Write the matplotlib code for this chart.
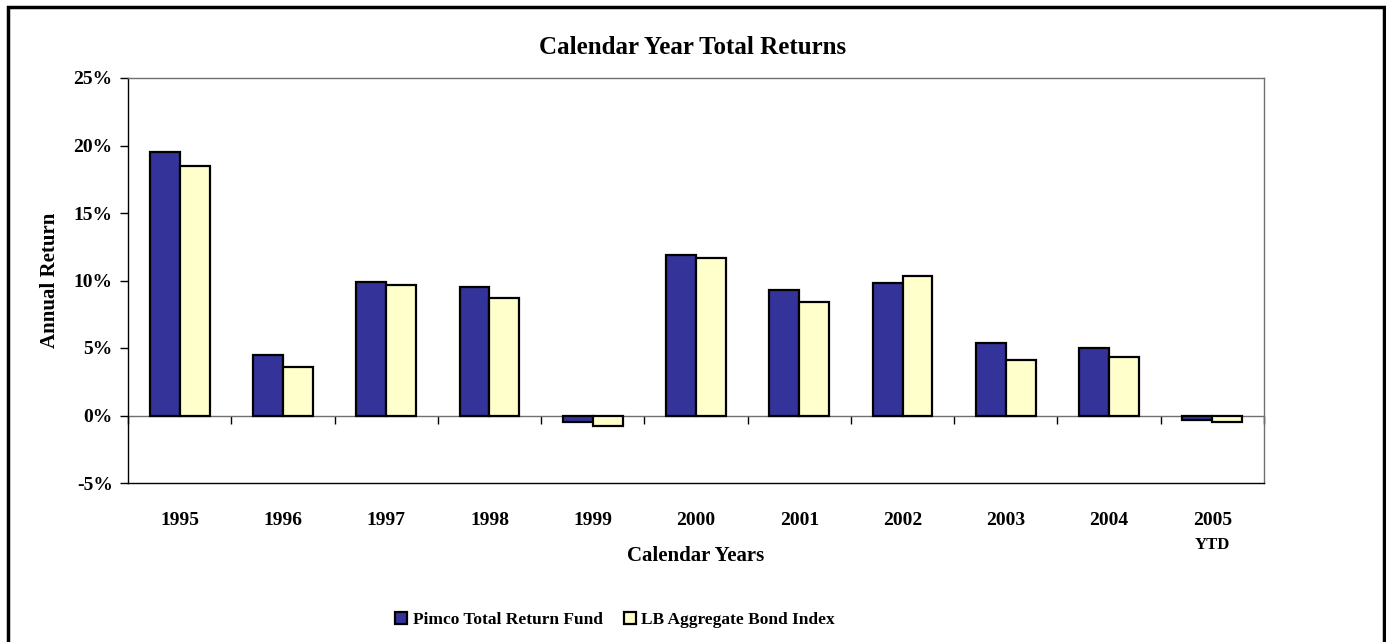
import matplotlib
matplotlib.use('Agg')
import matplotlib.pyplot as plt
import matplotlib.patches as patches
import numpy as np

# datos
years = ['1995', '1996', '1997', '1998', '1999', '2000', '2001', '2002', '2003', '2004', '2005']
pimco = [19.5, 4.5, 9.9, 9.5, -0.45, 11.9, 9.3, 9.8, 5.35, 5.0, -0.3]
lb_index = [18.5, 3.6, 9.7, 8.7, -0.8, 11.65, 8.4, 10.3, 4.1, 4.35, -0.5]
yticks = [-5, 0, 5, 10, 15, 20, 25]

plt.rcParams['font.family'] = ['Liberation Serif', 'DejaVu Serif']

W, H = 1386, 642
fig = plt.figure(figsize=(W / 100, H / 100), dpi=100)
ax = fig.add_axes([128 / W, 1 - 483 / H, (1264 - 128) / W, (483 - 78) / H])

x = np.arange(len(years))
w = 0.29
ax.bar(x - w / 2, pimco, w, color='#333399', edgecolor='black', linewidth=1.6,
       label='Pimco Total Return Fund', zorder=3)
ax.bar(x + w / 2, lb_index, w, color='#FFFFCC', edgecolor='black', linewidth=1.6,
       label='LB Aggregate Bond Index', zorder=3)

ax.set_xlim(-0.5, len(years) - 0.5)
ax.set_ylim(-5, 25)
ax.set_yticks(yticks)
ax.set_yticklabels([f'{v}%' for v in yticks], fontsize=14, fontweight='bold')
ax.tick_params(axis='y', direction='out', length=6, width=1, pad=5)
ax.set_xticks(x)
ax.set_xticklabels(years, fontsize=14, fontweight='bold')
ax.tick_params(axis='x', length=0, pad=21)

for s in ['top', 'right']:
    ax.spines[s].set_color('#707070')
for s in ['left', 'bottom']:
    ax.spines[s].set_color('black')
for s in ax.spines.values():
    s.set_linewidth(1)

# linea del cero con marcas entre categorias
ax.axhline(0, color='#707070', linewidth=1, zorder=2)
sec = ax.secondary_xaxis(5 / 30)
sec.set_xticks(np.arange(len(years) + 1) - 0.5)
sec.set_xticklabels([])
sec.tick_params(direction='out', length=6, width=1)
sec.spines['bottom'].set_visible(False)

ax.text(x[-1], -9.6, 'YTD', ha='center', va='center', fontsize=12, fontweight='bold')
ax.set_xlabel('Calendar Years', fontsize=15, fontweight='bold', labelpad=12)
ax.set_ylabel('Annual Return', fontsize=15, fontweight='bold', labelpad=10)

fig.text(693 / W, 1 - 48 / H, 'Calendar Year Total Returns', ha='center', va='center',
         fontsize=18, fontweight='bold')

fig.legend(loc='center', bbox_to_anchor=(615 / W, 1 - 620 / H), ncol=2, frameon=False,
           handlelength=0.7, handleheight=0.7, columnspacing=1.2,
           handletextpad=0.3, prop={'weight': 'bold', 'size': 12.5})

# borde exterior
fig.patches.append(patches.Rectangle((8 / W, -0.05), (1384 - 8) / W, 1.05 - 7 / H,
                                     transform=fig.transFigure, fill=False,
                                     edgecolor='black', linewidth=2.5))

plt.savefig('out.png', dpi=100)
